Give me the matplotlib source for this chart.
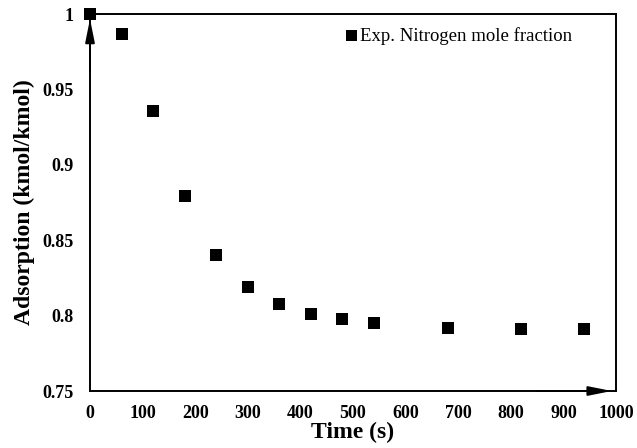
import matplotlib
matplotlib.use('Agg')
import matplotlib.pyplot as plt

plt.rcParams['font.family'] = ['Liberation Serif', 'DejaVu Serif']

time_s = [0, 60, 120, 180, 240, 300, 360, 420, 480, 540, 680, 820, 940]
n2_frac = [1.0, 0.987, 0.936, 0.879, 0.840, 0.819, 0.808, 0.801, 0.798, 0.795, 0.792, 0.791, 0.791]
x_ticks = [0, 100, 200, 300, 400, 500, 600, 700, 800, 900, 1000]
y_ticks = [0.75, 0.8, 0.85, 0.9, 0.95, 1.0]
y_tick_labels = ['0.75', '0.8', '0.85', '0.9', '0.95', '1']

fig = plt.figure(figsize=(6.37, 4.48), dpi=100)
# axes box: left 90px, right 616px, top 14px, bottom 391px
ax = fig.add_axes([90 / 637, 1 - 391 / 448, 526 / 637, 377 / 448])

ax.plot(time_s, n2_frac, 's', color='black', markersize=9, markeredgewidth=0,
        label='Exp. Nitrogen mole fraction', clip_on=False, zorder=5)

ax.set_xlim(0, 1000)
ax.set_ylim(0.75, 1.0)
ax.set_xticks(x_ticks)
ax.set_yticks(y_ticks, labels=y_tick_labels)
ax.tick_params(length=0, labelsize=13)
ax.tick_params(axis='x', pad=10)
ax.tick_params(axis='y', pad=12)
for lab in ax.get_xticklabels() + ax.get_yticklabels():
    lab.set_fontweight('bold')
for sp in ax.spines.values():
    sp.set_linewidth(1.4)

ax.set_xlabel('Time (s)', fontsize=17, fontweight='bold')
ax.set_ylabel('Adsorption (kmol/kmol)', fontsize=17, fontweight='bold')
ax.xaxis.set_label_coords(0.5, -0.083)
ax.yaxis.set_label_coords(-0.105, 0.5)

# axis arrows
arrow = dict(arrowstyle='-|>,head_length=1.0,head_width=0.2', color='black',
             lw=1.4, mutation_scale=14, shrinkA=0, shrinkB=0)
ax.annotate('', xy=(0, 0.987), xytext=(0, 0.85), xycoords='axes fraction', arrowprops=arrow)
ax.annotate('', xy=(0.992, 0), xytext=(0.85, 0), xycoords='axes fraction', arrowprops=arrow)

ax.legend(loc='upper right', frameon=False, fontsize=13.5, handletextpad=0.17,
          handlelength=0.6, markerscale=0.88, borderpad=0, borderaxespad=0,
          bbox_to_anchor=(0.916, 0.965))

fig.savefig('out.png', dpi=100)
